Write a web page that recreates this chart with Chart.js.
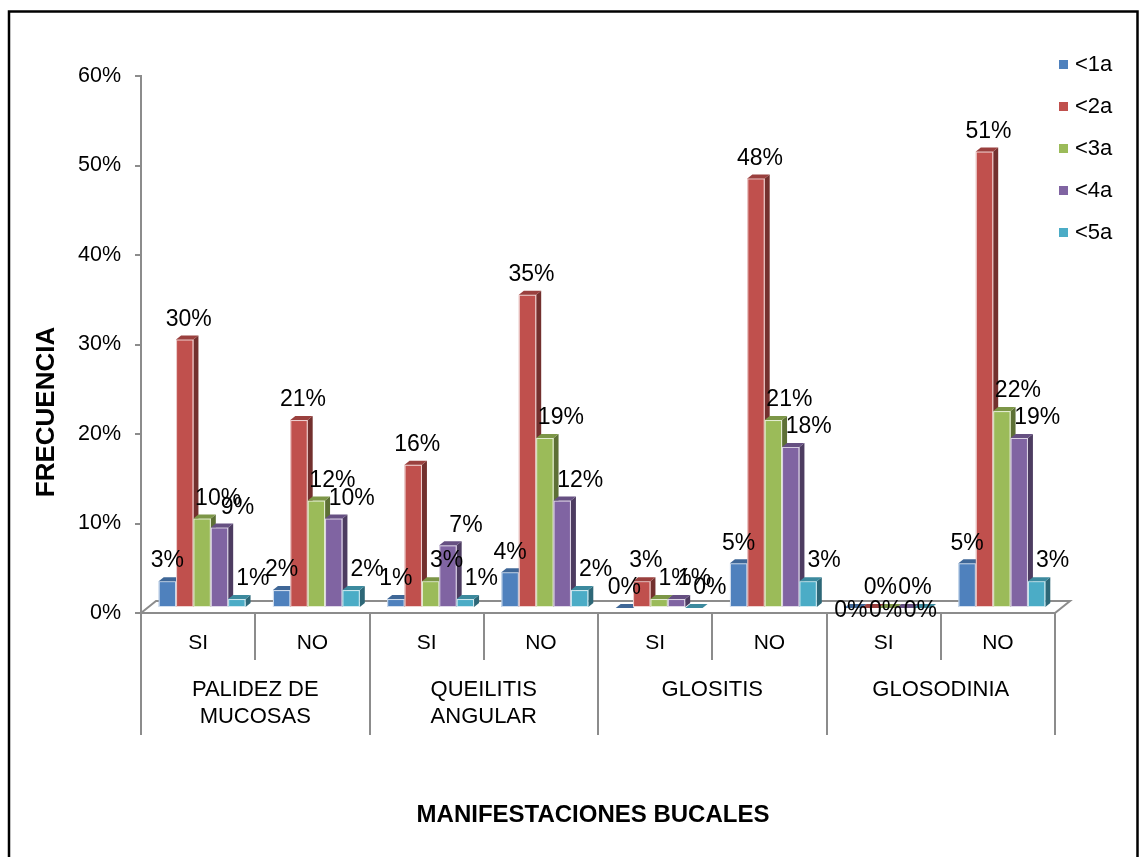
<!DOCTYPE html>
<html lang="es">
  <head>
    <meta charset="UTF-8">
    <title>Manifestaciones bucales</title>
    <script src="https://cdn.jsdelivr.net/npm/chart.js"></script>
    <style>
      body { margin: 0; background: #fff; }
      canvas { display: block; }
    </style>
  </head>
  <body>
    <canvas id="grafico" width="1139" height="857"></canvas>
    <script>
        // Datos
        const subcategorias = ['SI', 'NO', 'SI', 'NO', 'SI', 'NO', 'SI', 'NO'];
        const grupos = [['PALIDEZ DE', 'MUCOSAS'], ['QUEILITIS', 'ANGULAR'], ['GLOSITIS'], ['GLOSODINIA']];
        const series = ['<1a', '<2a', '<3a', '<4a', '<5a'];
        const menos1a = [3, 2, 1, 4, 0, 5, 0, 5];
        const menos2a = [30, 21, 16, 35, 3, 48, 0, 51];
        const menos3a = [10, 12, 3, 19, 1, 21, 0, 22];
        const menos4a = [9, 10, 7, 12, 1, 18, 0, 19];
        const menos5a = [1, 2, 1, 2, 0, 3, 0, 3];
        const ticksY = [0, 10, 20, 30, 40, 50, 60];

        const colores = ['#4F81BD', '#C0504D', '#9BBB59', '#8064A2', '#4BACC6'];
        const fuente = '"Liberation Sans", Arial, sans-serif';
        const gris = '#8c8c8c';

        function sombra(hex, f) {
            const n = parseInt(hex.slice(1), 16);
            const r = Math.round(((n >> 16) & 255) * f);
            const g = Math.round(((n >> 8) & 255) * f);
            const b = Math.round((n & 255) * f);
            return `rgb(${r},${g},${b})`;
        }

        // efecto 3D estilo Excel: barras con cara superior y lateral
        const ox = 4, oy = -5;     // desplazamiento de las barras sobre el piso
        const dx = 5, dy = -4;     // profundidad de cada barra
        const etiquetaDx = [0, 4, 16, 18, 16];

        const barras3d = {
            id: 'barras3d',
            beforeDatasetsDraw(chart) {
                const ctx = chart.ctx;
                const area = chart.chartArea;
                ctx.save();
                // piso
                ctx.beginPath();
                ctx.moveTo(area.left, area.bottom);
                ctx.lineTo(area.left + 15, area.bottom - 12);
                ctx.lineTo(area.right + 15, area.bottom - 12);
                ctx.lineTo(area.right, area.bottom);
                ctx.closePath();
                ctx.fillStyle = '#fff';
                ctx.fill();
                ctx.strokeStyle = gris;
                ctx.lineWidth = 2;
                ctx.stroke();

                const n = chart.data.labels.length;
                for (let i = 0; i < n; i++) {
                    chart.data.datasets.forEach((ds, d) => {
                        const el = chart.getDatasetMeta(d).data[i];
                        const valor = ds.data[i];
                        const l = el.x - el.width / 2 + ox;
                        const r = el.x + el.width / 2 + ox;
                        const t = el.y + oy;
                        const b = el.base + oy;
                        const c = colores[d];
                        if (valor > 0) {
                            // lateral
                            ctx.beginPath();
                            ctx.moveTo(r, t);
                            ctx.lineTo(r + dx, t + dy);
                            ctx.lineTo(r + dx, b + dy);
                            ctx.lineTo(r, b);
                            ctx.closePath();
                            ctx.fillStyle = sombra(c, 0.6);
                            ctx.fill();
                            // frente
                            ctx.fillStyle = c;
                            ctx.fillRect(l, t, r - l, b - t);
                            ctx.strokeStyle = 'rgba(255,255,255,0.75)';
                            ctx.lineWidth = 1;
                            ctx.strokeRect(l + 0.5, t + 0.5, r - l - 1, b - t - 1);
                        }
                        // cara superior
                        ctx.beginPath();
                        ctx.moveTo(l, t);
                        ctx.lineTo(l + dx, t + dy);
                        ctx.lineTo(r + dx, t + dy);
                        ctx.lineTo(r, t);
                        ctx.closePath();
                        ctx.fillStyle = sombra(c, 0.8);
                        ctx.fill();
                    });
                }

                // etiquetas de datos (los ceros vecinos se reparten en dos filas)
                ctx.fillStyle = '#000';
                ctx.font = '23px ' + fuente;
                ctx.textAlign = 'center';
                ctx.textBaseline = 'middle';
                const sets = chart.data.datasets;
                sets.forEach((ds, d) => {
                    chart.getDatasetMeta(d).data.forEach((el, i) => {
                        let x = el.x + ox + etiquetaDx[d];
                        let y = el.y + oy - 20;
                        const v = ds.data[i];
                        const vecinoCero = (sets[d - 1] && sets[d - 1].data[i] === 0) || (sets[d + 1] && sets[d + 1].data[i] === 0);
                        if (v === 0 && vecinoCero) {
                            x = el.x + ox + (d % 2 === 0 ? -2 : 10);
                            if (d % 2 === 0) y += 23;
                        }
                        ctx.fillText(v + '%', x, y);
                    });
                });
                ctx.restore();
                return false;
            },
            afterDraw(chart) {
                const ctx = chart.ctx;
                const area = chart.chartArea;
                const xs = chart.scales.x;
                const n = chart.data.labels.length;
                const paso = (area.right - area.left) / n;
                ctx.save();
                // separadores del eje x
                ctx.strokeStyle = gris;
                ctx.lineWidth = 2;
                for (let k = 0; k <= n; k++) {
                    const x = Math.round(area.left + k * paso);
                    ctx.beginPath();
                    ctx.moveTo(x, area.bottom);
                    ctx.lineTo(x, k % 2 === 0 ? 735 : 660);
                    ctx.stroke();
                }
                ctx.fillStyle = '#000';
                ctx.font = '21px ' + fuente;
                ctx.textAlign = 'center';
                ctx.textBaseline = 'middle';
                subcategorias.forEach((s, i) => {
                    ctx.fillText(s, xs.getPixelForValue(i), 643);
                });
                ctx.font = '22px ' + fuente;
                grupos.forEach((lineas, g) => {
                    const x = (xs.getPixelForValue(2 * g) + xs.getPixelForValue(2 * g + 1)) / 2;
                    lineas.forEach((t, j) => ctx.fillText(t, x, 690 + j * 27));
                });

                // titulos de ejes
                ctx.font = 'bold 24px ' + fuente;
                ctx.fillText('MANIFESTACIONES BUCALES', 593, 815);
                ctx.save();
                ctx.translate(47, 412);
                ctx.rotate(-Math.PI / 2);
                ctx.font = 'bold 26px ' + fuente;
                ctx.fillText('FRECUENCIA', 0, 0);
                ctx.restore();

                // leyenda
                ctx.font = '22px ' + fuente;
                ctx.textAlign = 'left';
                series.forEach((s, d) => {
                    const y = 64 + d * 42;
                    ctx.fillStyle = colores[d];
                    ctx.fillRect(1059, y - 4, 9, 9);
                    ctx.fillStyle = '#000';
                    ctx.fillText(s, 1075, y + 1);
                });

                // marco
                ctx.strokeStyle = '#000';
                ctx.lineWidth = 2.5;
                ctx.beginPath();
                ctx.moveTo(9, 870);
                ctx.lineTo(9, 11.5);
                ctx.lineTo(1137.5, 11.5);
                ctx.lineTo(1137.5, 870);
                ctx.stroke();
                ctx.restore();
            }
        };

        const valores = [menos1a, menos2a, menos3a, menos4a, menos5a];
        const grafico = new Chart(document.getElementById('grafico'), {
            type: 'bar',
            data: {
                labels: subcategorias,
                datasets: series.map((s, d) => ({
                    label: s,
                    data: valores[d],
                    backgroundColor: colores[d],
                    barPercentage: 1,
                    categoryPercentage: 0.76
                }))
            },
            options: {
                responsive: false,
                animation: false,
                layout: { padding: { left: 0, top: 76, right: 84, bottom: 244 } },
                plugins: { legend: { display: false }, tooltip: { enabled: false } },
                scales: {
                    x: { display: false },
                    y: {
                        min: 0,
                        max: 60,
                        afterBuildTicks: (s) => { s.ticks = ticksY.map(v => ({ value: v })); },
                        afterFit: (s) => { s.width = 141; },
                        ticks: {
                            callback: (v) => v + '%',
                            color: '#000',
                            padding: 14,
                            font: { family: fuente, size: 21.5 }
                        },
                        grid: { drawOnChartArea: false, tickLength: 6, color: gris, lineWidth: 2 },
                        border: { color: gris, width: 2 }
                    }
                }
            },
            plugins: [barras3d]
        });
    </script>
  </body>
</html>
